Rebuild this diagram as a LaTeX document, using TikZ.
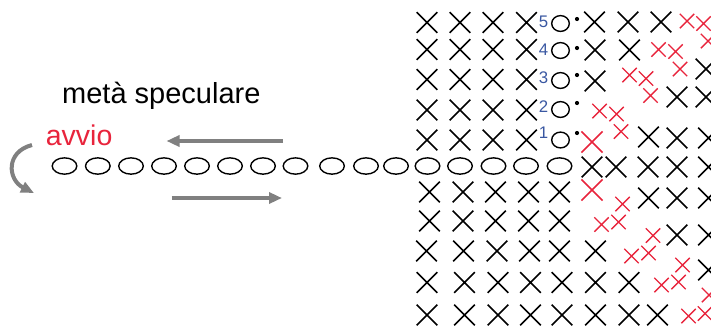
\documentclass[tikz,border=0pt]{standalone}
\usepackage{fontspec}
\setmainfont{Liberation Sans}
\usetikzlibrary{shapes.misc,shapes.geometric,arrows.meta}
\definecolor{stred}{RGB}{232,36,60}
\definecolor{stblue}{RGB}{58,88,162}
\definecolor{arrgray}{RGB}{128,128,128}
\begin{document}
\begin{tikzpicture}[x=1pt,y=-1pt,
 bx/.style={draw=black,cross out,line width=1.6pt,minimum size=19pt,inner sep=0pt},
 rbx/.style={draw=stred,cross out,line width=1.6pt,minimum size=19.5pt,inner sep=0pt},
 rsx/.style={draw=stred,cross out,line width=1.4pt,minimum size=13pt,inner sep=0pt},
 ch/.style={draw,ellipse,line width=1.4pt,minimum width=24.6pt,minimum height=16.3pt,inner sep=0pt},
 ring/.style={draw,ellipse,line width=1.4pt,minimum width=17.6pt,minimum height=15.8pt,inner sep=0pt},
 dotm/.style={fill,circle,inner sep=0pt,minimum size=4.2pt},
 num/.style={text=stblue,font=\fontsize{16.8}{18}\selectfont,anchor=base east,inner sep=0pt},
 arr/.style={draw=arrgray,line width=4pt,-{Triangle[length=13pt,width=11pt]}},
]
\useasboundingbox (0,0) rectangle (711,325);

% texts
\node[anchor=base west,inner sep=0pt,font=\fontsize{29}{34}\selectfont] (meta) at (62,103.7) {metà speculare};
\node[anchor=base west,inner sep=0pt,text=stred,font=\fontsize{28.5}{34}\selectfont] (avvio) at (45.7,145.3) {avvio};

% arrows
\coordinate (a1s) at (283,141); \coordinate (a1e) at (166.5,141);
\draw[arr] (a1s) -- (a1e);
\coordinate (a2s) at (171.5,198); \coordinate (a2e) at (282,198);
\draw[arr] (a2s) -- (a2e);
\coordinate (c1s) at (32,145); \coordinate (c1e) at (34,193);
\draw[arr] (c1s) .. controls (5,152) and (8,180) .. (c1e);

% chain of ellipses
\foreach \x [count=\i] in {64.5,97.8,131,164,197,230,263,295.5,332,366,396,427.5,460,493.5,526,559.5}
  \node[ch] (ch\i) at (\x,166) {};

% top rows, left blocks
\foreach \y [count=\r] in {22.5,49.5,79.5,110,140}
  \foreach \x [count=\c] in {427,460,493,526.5}
    \node[bx] (t\r-\c) at (\x,\y) {};

% rings, numbers, dots
\foreach \y/\b/\d/\n [count=\r] in {23.5/27/19/5,50.5/55/48/4,80.5/83/75/3,109.5/112/103/2,140/138/133/1} {
  \node[ring] (ring\r) at (560.5,\y) {};
  \node[num] (num\r) at (548.5,\b) {\n};
  \node[dotm] (dot\r) at (577,\d) {};
}

% black X, right part of upper area
\foreach \x/\y [count=\i] in {594.5/22,628/22,661/22,595/50,629.5/50,595/81,
  706/69,677/97,706/97,648.5/137,677/138,708.5/138,
  592/167,616/167,648/167,677/167,708.5/167,
  648.5/198,677/198,708.5/198,677/235,708.5/235,708.5/270}
  \node[bx] (u\i) at (\x,\y) {};

% lower rows
\foreach \x [count=\c] in {429.5,463,495.5,528.5,559.5}
  \node[bx] (ra\c) at (\x,192) {};
\foreach \x [count=\c] in {429.5,463,495.5,528.5,559.5}
  \node[bx] (rb\c) at (\x,221) {};
\foreach \x [count=\c] in {426.5,463.5,497,529.5,559.5,595.5}
  \node[bx] (rc\c) at (\x,251) {};
\foreach \x [count=\c] in {427,464.5,498,530.5,562,595.5,629}
  \node[bx] (rd\c) at (\x,282.5) {};
\foreach \x [count=\c] in {427,464.5,498,530.5,562,595.5,629,657.5}
  \node[bx] (re\c) at (\x,315) {};

% red big X
\node[rbx] (rb1x) at (592,142) {};
\node[rbx] (rb2x) at (592,190) {};

% red small X
\foreach \x/\y [count=\i] in {687/21,703.5/23.5,708/41,
  658.5/49.5,675.5/51.5,680/69,
  629.5/75,646/78.5,650.5/95.5,
  599.5/111,616.5/114,621/131.5,
  622.5/204,
  601.5/224.5,618.5/222,653/235.5,
  631.5/256,648.5/253,682.5/265,
  661.5/285,678.5/282,709/295,
  688.5/316,705/313.5}
  \node[rsx] (s\i) at (\x,\y) {};
\end{tikzpicture}
\end{document}
